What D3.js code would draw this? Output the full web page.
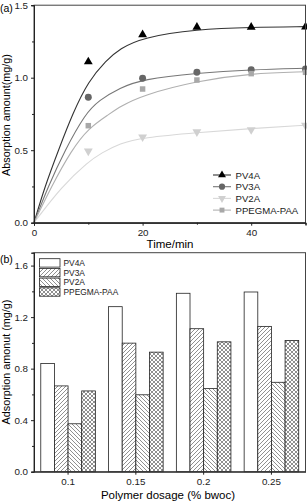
<!DOCTYPE html>
<html>
<head>
<meta charset="utf-8">
<script src="https://cdn.jsdelivr.net/npm/d3@7"></script>
<style>
  body { margin: 0; background: #fff; }
  svg { font-family: "Liberation Sans", Arial, sans-serif; }
  .tick text { font-size: 9.8px; fill: #222; }
</style>
</head>
<body>
<svg id="chart" width="307" height="502"></svg>
<script>
// panel (a) - measured points
var times = [10, 20, 30, 40, 50];
var pv4a = [1.11, 1.297, 1.348, 1.348, 1.35];
var pv3a = [0.865, 0.996, 1.037, 1.055, 1.06];
var pv2a = [0.494, 0.591, 0.626, 0.641, 0.672];
var ppegma = [0.669, 0.922, 0.984, 1.028, 1.037];

// fitted curves as [time, value]
var fitPv4a = [[0, 0], [2, 0.25], [4.5, 0.5], [7.2, 0.76], [10, 0.975], [13.3, 1.12], [15.8, 1.2], [20, 1.278], [30, 1.334], [40, 1.348], [50, 1.352]];
var fitPv3a = [[0, 0], [2.6, 0.25], [5.7, 0.5], [9.4, 0.75], [12, 0.845], [15.8, 0.93], [20, 0.99], [30, 1.032], [40, 1.055], [50, 1.065]];
var fitPpegma = [[0, 0], [3.2, 0.25], [6.9, 0.5], [10, 0.651], [13.9, 0.75], [15.8, 0.8], [20, 0.88], [30, 0.978], [40, 1.03], [50, 1.041]];
var fitPv2a = [[0, 0], [5.1, 0.25], [10, 0.421], [12.4, 0.48], [15.8, 0.548], [20, 0.587], [30, 0.622], [40, 0.65], [50, 0.672]];

var xTicksA = [0, 20, 40];
var yTicksA = [0.0, 0.5, 1.0, 1.5];

// panel (b) - bars
var dosages = ['0.1', '0.15', '0.2', '0.25'];
var barPv4a = [0.84, 1.281, 1.385, 1.395];
var barPv3a = [0.666, 0.998, 1.11, 1.128];
var barPv2a = [0.372, 0.597, 0.645, 0.694];
var barPpegma = [0.627, 0.928, 1.008, 1.019];
var yTicksB = [0.0, 0.4, 0.8, 1.2, 1.6];

var svg = d3.select('#chart');

var defs = svg.append('defs');
var addPattern = function(id, d) {
  var p = defs.append('pattern').attr('id', id)
    .attr('patternUnits', 'userSpaceOnUse')
    .attr('width', 4).attr('height', 4);
  p.append('rect').attr('width', 4).attr('height', 4).attr('fill', '#fff');
  p.append('path').attr('d', d).attr('stroke', '#444').attr('stroke-width', 0.6).attr('fill', 'none');
};
addPattern('fwd', 'M0,4L4,0M-1,1L1,-1M3,5L5,3');
addPattern('back', 'M0,0L4,4M-1,3L1,5M3,-1L5,1');
addPattern('cross', 'M0,4L4,0M-1,1L1,-1M3,5L5,3M0,0L4,4M-1,3L1,5M3,-1L5,1');

// ---------- panel (a) ----------
var xA = d3.scaleLinear().domain([0, 50]).range([34, 305.5]);
var yA = d3.scaleLinear().domain([0, 1.5]).range([222.7, 5.2]);

var seriesA = [
  {name: 'PV4A', pts: pv4a, fit: fitPv4a, marker: d3.symbolTriangle, fill: '#000', line: '#333', size: 34},
  {name: 'PV3A', pts: pv3a, fit: fitPv3a, marker: d3.symbolCircle, fill: '#666', line: '#777', size: 38},
  {name: 'PV2A', pts: pv2a, fit: fitPv2a, marker: d3.symbolTriangle, fill: '#d0d0d0', line: '#d8d8d8', size: 34, flip: true},
  {name: 'PPEGMA-PAA', pts: ppegma, fit: fitPpegma, marker: d3.symbolSquare, fill: '#a8a8a8', line: '#b0b0b0', size: 30}
];

var line = d3.line()
  .x(function(d) { return xA(d[0]); })
  .y(function(d) { return yA(d[1]); })
  .curve(d3.curveBasis);

var gA = svg.append('g');

seriesA.forEach(function(s) {
  gA.append('path').datum(s.fit)
    .attr('d', line)
    .attr('fill', 'none')
    .attr('stroke', s.line)
    .attr('stroke-width', 1.1);
});

seriesA.forEach(function(s) {
  var sym = d3.symbol().type(s.marker).size(s.size);
  gA.selectAll(null).data(s.pts).enter().append('path')
    .attr('d', sym)
    .attr('fill', s.fill)
    .attr('transform', function(d, i) {
      return 'translate(' + xA(times[i]) + ',' + yA(d) + ')' + (s.flip ? ' rotate(180)' : '');
    });
});

// frame
gA.append('rect')
  .attr('x', 34).attr('y', 5.2)
  .attr('width', 305.5 - 34).attr('height', 222.7 - 5.2)
  .attr('fill', 'none').attr('stroke', '#444').attr('stroke-width', 1);

gA.append('g').attr('transform', 'translate(0,222.7)')
  .call(d3.axisBottom(xA).tickValues(xTicksA).tickSize(3).tickFormat(d3.format('d')));
gA.append('g').attr('transform', 'translate(0,222.7)')
  .call(d3.axisBottom(xA).tickValues([10, 30, 50]).tickSize(2).tickFormat(''));
gA.append('g').attr('transform', 'translate(34,0)')
  .call(d3.axisLeft(yA).tickValues(yTicksA).tickSize(3).tickFormat(d3.format('.1f')));
gA.append('g').attr('transform', 'translate(34,0)')
  .call(d3.axisLeft(yA).tickValues([0.25, 0.75, 1.25]).tickSize(2).tickFormat(''));

gA.selectAll('.domain').attr('stroke', '#222');
gA.selectAll('.tick line').attr('stroke', '#222');

gA.append('text').attr('x', 170).attr('y', 247.5)
  .attr('text-anchor', 'middle').attr('font-size', 11.5).text('Time/min');
gA.append('text').attr('transform', 'translate(10,115) rotate(-90)')
  .attr('text-anchor', 'middle').attr('font-size', 10.8).text('Absorption amount(mg/g)');
gA.append('text').attr('x', 0).attr('y', 12).attr('font-size', 10.5).text('(a)');

// legend (a)
var legA = gA.append('g');
seriesA.forEach(function(s, i) {
  var y = 175 + i * 11.7;
  legA.append('line').attr('x1', 213).attr('x2', 231).attr('y1', y).attr('y2', y)
    .attr('stroke', s.line).attr('stroke-width', 1.1);
  legA.append('path').attr('d', d3.symbol().type(s.marker).size(s.size * 0.8))
    .attr('fill', s.fill)
    .attr('transform', 'translate(222,' + y + ')' + (s.flip ? ' rotate(180)' : ''));
  legA.append('text').attr('x', 235.5).attr('y', y + 3.5)
    .attr('font-size', 9.6).attr('fill', '#222').text(s.name);
});

// ---------- panel (b) ----------
var x0 = d3.scaleBand().domain(dosages).range([34, 305.5]).paddingInner(0.195).paddingOuter(0.1);
var seriesB = [
  {name: 'PV4A', vals: barPv4a, fill: '#fff'},
  {name: 'PV3A', vals: barPv3a, fill: 'url(#fwd)'},
  {name: 'PV2A', vals: barPv2a, fill: 'url(#back)'},
  {name: 'PPEGMA-PAA', vals: barPpegma, fill: 'url(#cross)'}
];
var x1 = d3.scaleBand().domain(seriesB.map(function(s) { return s.name; })).range([0, x0.bandwidth()]);
var yB = d3.scaleLinear().domain([0, 1.7]).range([471.7, 252.7]);

var gB = svg.append('g');

seriesB.forEach(function(s) {
  gB.selectAll(null).data(s.vals).enter().append('rect')
    .attr('x', function(d, i) { return x0(dosages[i]) + x1(s.name); })
    .attr('y', function(d) { return yB(d); })
    .attr('width', x1.bandwidth())
    .attr('height', function(d) { return yB(0) - yB(d); })
    .attr('fill', s.fill)
    .attr('stroke', '#222')
    .attr('stroke-width', 0.8);
});

gB.append('rect')
  .attr('x', 34).attr('y', 252.7)
  .attr('width', 305.5 - 34).attr('height', 471.7 - 252.7)
  .attr('fill', 'none').attr('stroke', '#444').attr('stroke-width', 1);

gB.append('g').attr('transform', 'translate(0,471.7)')
  .call(d3.axisBottom(x0).tickSize(3).tickSizeOuter(0));
gB.append('g').attr('transform', 'translate(34,0)')
  .call(d3.axisLeft(yB).tickValues(yTicksB).tickSize(3).tickFormat(d3.format('.1f')));
gB.append('g').attr('transform', 'translate(34,0)')
  .call(d3.axisLeft(yB).tickValues([0.2, 0.6, 1.0, 1.4]).tickSize(2).tickFormat(''));

gB.selectAll('.domain').attr('stroke', '#222');
gB.selectAll('.tick line').attr('stroke', '#222');

gB.append('text').attr('x', 168).attr('y', 499)
  .attr('text-anchor', 'middle').attr('font-size', 11.5).text('Polymer dosage (% bwoc)');
gB.append('text').attr('transform', 'translate(10,362) rotate(-90)')
  .attr('text-anchor', 'middle').attr('font-size', 10.8).text('Adsorption amonut (mg/g)');
gB.append('text').attr('x', 0).attr('y', 263).attr('font-size', 10.5).text('(b)');

// legend (b)
var legB = gB.append('g');
seriesB.forEach(function(s, i) {
  var y = 258.7 + i * 9.7;
  legB.append('rect').attr('x', 39.5).attr('y', y).attr('width', 20.5).attr('height', 8.4)
    .attr('fill', s.fill).attr('stroke', '#222').attr('stroke-width', 0.8);
  legB.append('text').attr('x', 63.5).attr('y', y + 7.3)
    .attr('font-size', 8.4).attr('fill', '#222').text(s.name);
});
</script>
</body>
</html>
